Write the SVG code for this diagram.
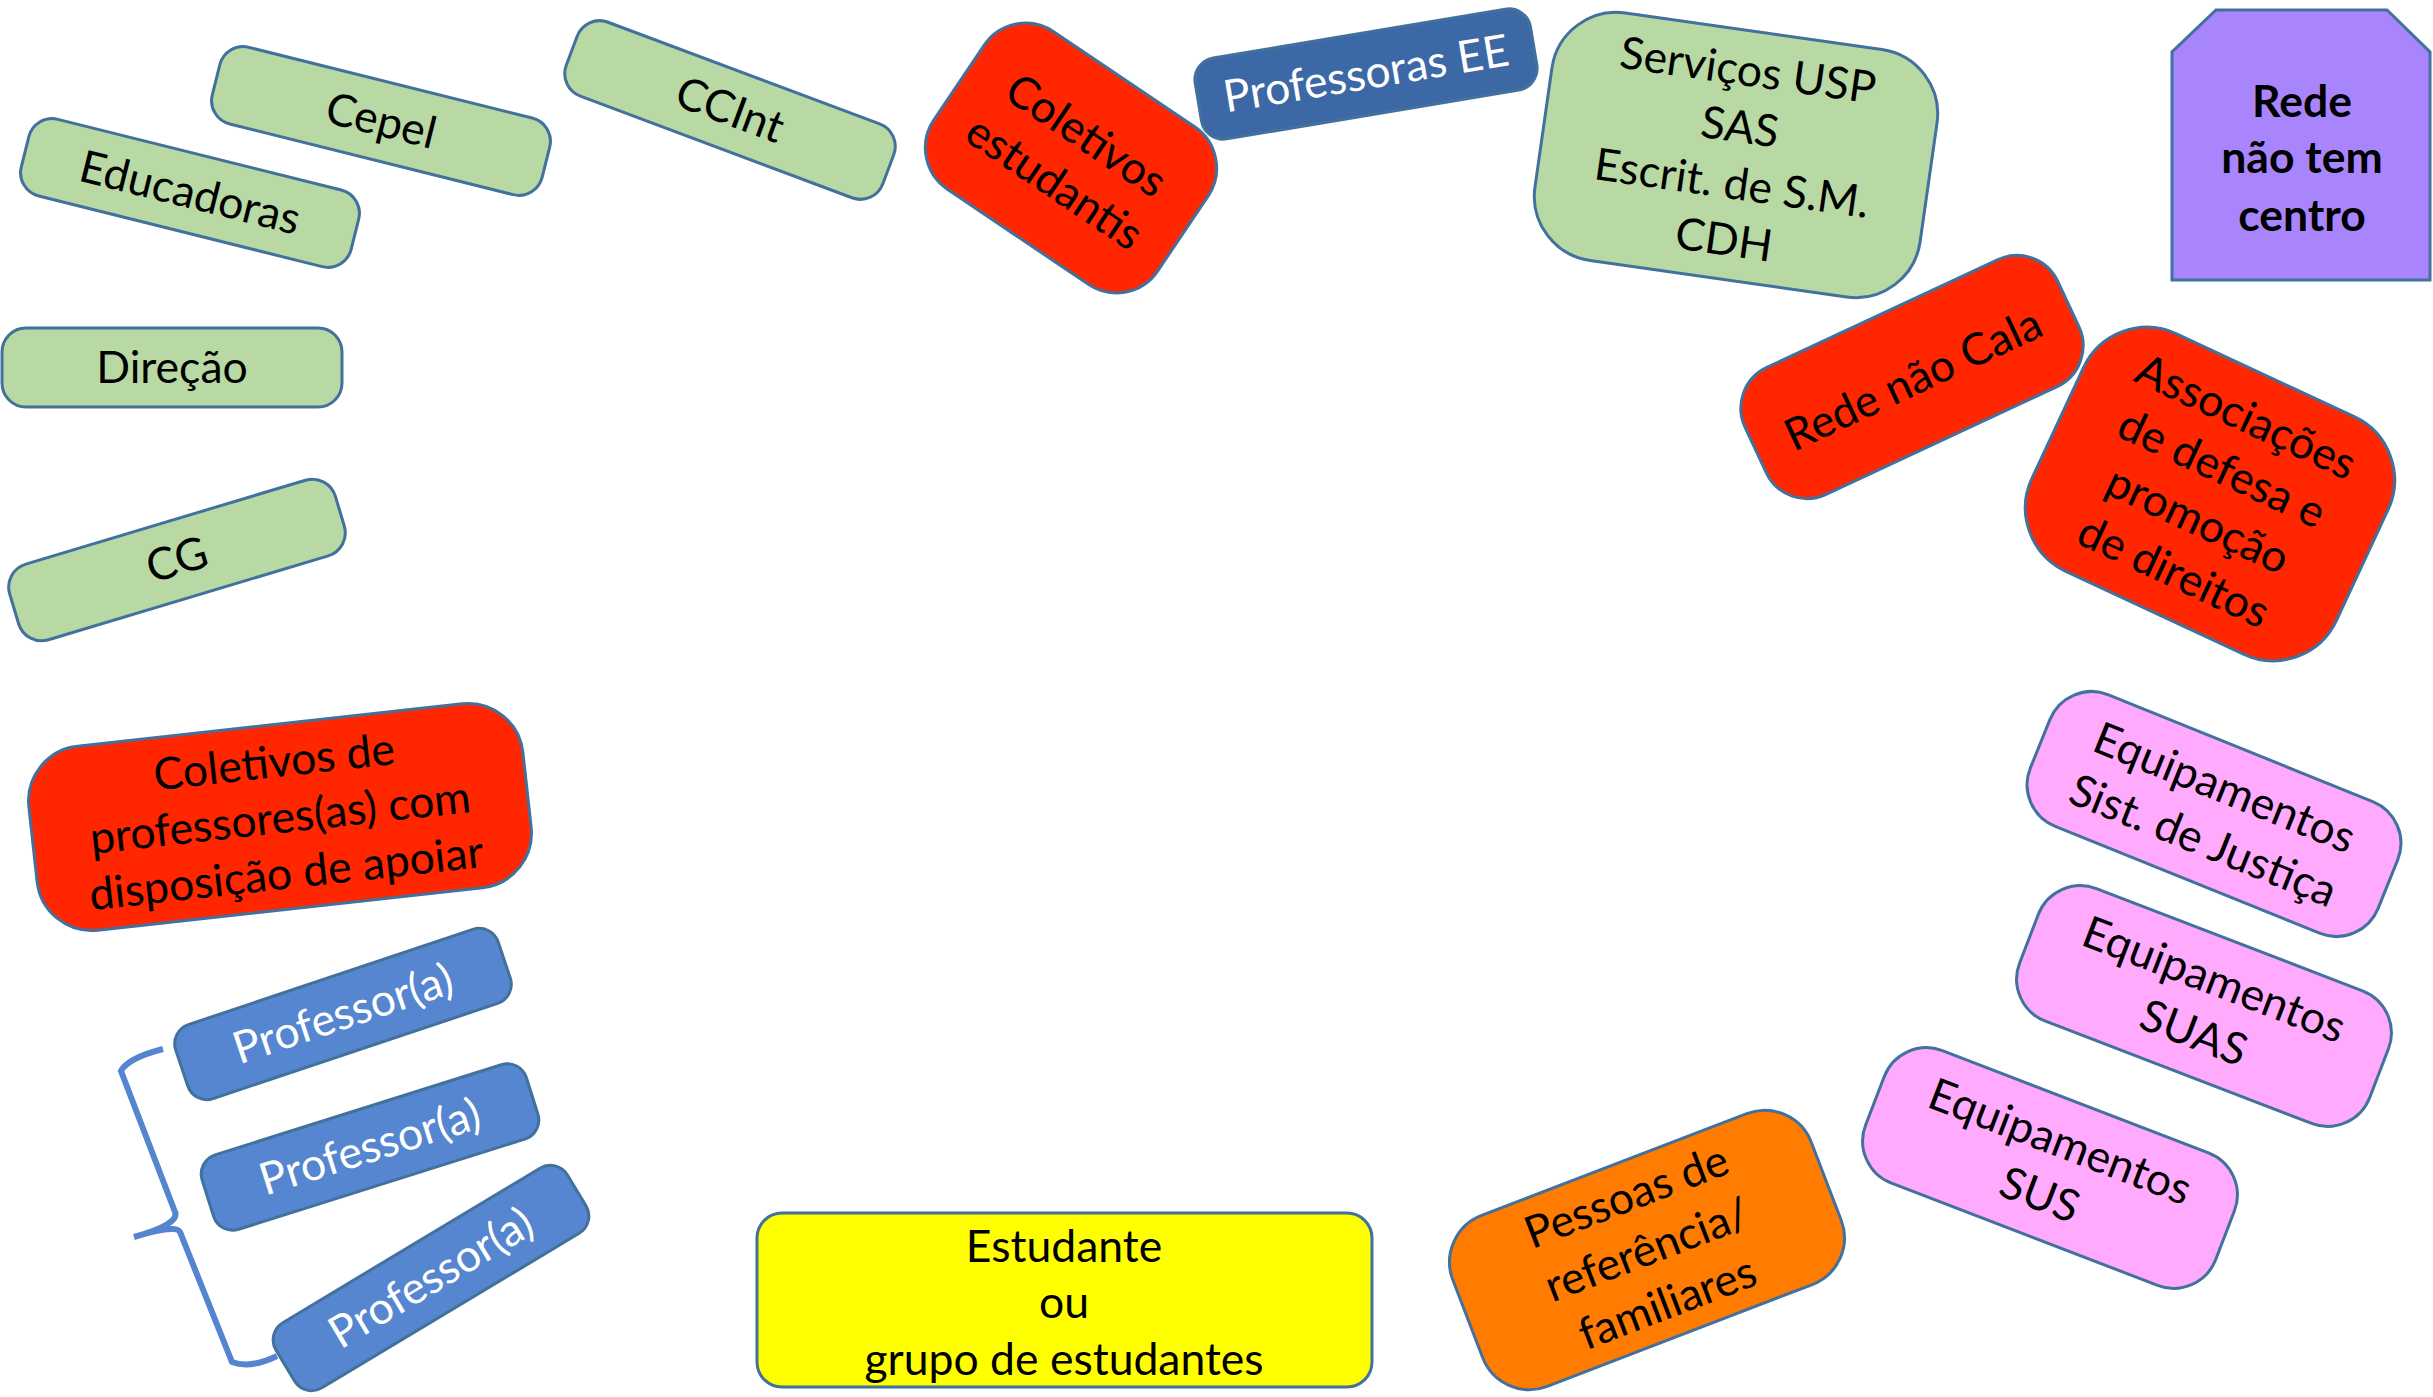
<svg xmlns="http://www.w3.org/2000/svg" width="2433" height="1397" viewBox="0 0 2433 1397">
<style>
  .box { stroke: #41719c; stroke-width: 3; }
  .green { fill: #b8d9a3; }
  .red { fill: #ff2600; }
  .pink { fill: #ffaafc; }
  .blue { fill: #5586cf; }
  .dblue { fill: #3c68a6; }
  .purple { fill: #a985fd; }
  .orange { fill: #ff7c00; }
  .yellow { fill: #ffff00; }
  text { font-family: Lato, "Liberation Sans", sans-serif; font-size: 44.5px; text-anchor: middle; fill: #000; }
  .w { fill: #ffffff; }
  .b { font-weight: bold; }
  .brace { fill: none; stroke: #5585cf; stroke-width: 6; }
</style>
<rect x="0" y="0" width="2433" height="1397" fill="#ffffff"/>

<g id="educadoras" transform="translate(190,193) rotate(14)">
  <rect class="box green" x="-170" y="-39.5" width="340" height="79" rx="24"/>
  <text x="0" y="15">Educadoras</text>
</g>
<g id="cepel" transform="translate(381,121) rotate(14)">
  <rect class="box green" x="-170" y="-39.5" width="340" height="79" rx="24"/>
  <text x="0" y="15">Cepel</text>
</g>
<g id="ccint" transform="translate(730,110) rotate(20.5)">
  <rect class="box green" x="-169" y="-39.5" width="338" height="79" rx="24"/>
  <text x="0" y="15">CCInt</text>
</g>
<g id="direcao">
  <rect class="box green" x="2" y="328" width="340" height="79" rx="24"/>
  <text x="172" y="383">Direção</text>
</g>
<g id="cg" transform="translate(177,560) rotate(-16.7)">
  <rect class="box green" x="-170" y="-39.5" width="340" height="79" rx="24"/>
  <text x="0" y="15">CG</text>
</g>
<g id="coletivos-professores" transform="translate(280,817) rotate(-6.3)">
  <rect class="box red" x="-248.5" y="-92.5" width="497" height="185" rx="55"/>
  <text><tspan x="0" y="-40">Coletivos de</tspan><tspan x="0" y="16">professores(as) com</tspan><tspan x="0" y="72">disposição de apoiar</tspan></text>
</g>
<g id="professor1" transform="translate(343,1014) rotate(-18.5)">
  <rect class="box blue" x="-170" y="-39" width="340" height="78" rx="20"/>
  <text class="w" x="0" y="15">Professor(a)</text>
</g>
<g id="professor2" transform="translate(370,1147) rotate(-17.5)">
  <rect class="box blue" x="-170" y="-39" width="340" height="78" rx="20"/>
  <text class="w" x="0" y="15">Professor(a)</text>
</g>
<g id="professor3" transform="translate(431,1278) rotate(-31)">
  <rect class="box blue" x="-170" y="-38" width="340" height="76" rx="20"/>
  <text class="w" x="0" y="15">Professor(a)</text>
</g>
<g id="estudante">
  <rect class="box yellow" x="757" y="1213" width="615" height="174" rx="25"/>
  <text><tspan x="1064" y="1262">Estudante</tspan><tspan x="1064" y="1318">ou</tspan><tspan x="1064" y="1375">grupo de estudantes</tspan></text>
</g>
<g id="pessoas" transform="translate(1647,1250) rotate(-21)">
  <rect class="box orange" x="-192" y="-91.5" width="384" height="183" rx="50"/>
  <text><tspan x="0" y="-42">Pessoas de</tspan><tspan x="0" y="15">referência/</tspan><tspan x="0" y="72">familiares</tspan></text>
</g>
<g id="coletivos-estudantis" transform="translate(1071,158) rotate(34)">
  <rect class="box red" x="-135" y="-95" width="270" height="190" rx="50"/>
  <text><tspan x="0" y="-12">Coletivos</tspan><tspan x="0" y="45">estudantis</tspan></text>
</g>
<g id="professoras-ee" transform="translate(1366,74) rotate(-9.5)">
  <rect class="box dblue" x="-170" y="-41" width="340" height="82" rx="22"/>
  <text class="w" x="0" y="15">Professoras EE</text>
</g>
<g id="servicos-usp" transform="translate(1736,155) rotate(8.1)">
  <rect class="box green" x="-194.5" y="-125" width="389" height="250" rx="65"/>
  <text><tspan x="0" y="-70">Serviços USP</tspan><tspan x="0" y="-13">SAS</tspan><tspan x="0" y="44">Escrit. de S.M.</tspan><tspan x="0" y="101">CDH</tspan></text>
</g>
<g id="rede-nao-tem-centro">
  <polygon class="box purple" points="2216,10 2387,10 2430,52 2430,280 2172,280 2172,52"/>
  <text class="b"><tspan x="2302" y="117">Rede</tspan><tspan x="2302" y="173">não tem</tspan><tspan x="2302" y="231">centro</tspan></text>
</g>
<g id="rede-nao-cala" transform="translate(1912,377) rotate(-25)">
  <rect class="box red" x="-172.5" y="-70" width="345" height="140" rx="45"/>
  <text x="0" y="18">Rede não Cala</text>
</g>
<g id="associacoes" transform="translate(2210,494) rotate(25)">
  <rect class="box red" x="-168" y="-131" width="336" height="262" rx="70"/>
  <text><tspan x="0" y="-70">Associações</tspan><tspan x="0" y="-13">de defesa e</tspan><tspan x="0" y="44">promoção</tspan><tspan x="0" y="101">de direitos</tspan></text>
</g>
<g id="equip-justica" transform="translate(2214,814) rotate(22)">
  <rect class="box pink" x="-187.5" y="-71" width="375" height="142" rx="45"/>
  <text><tspan x="0" y="-13">Equipamentos</tspan><tspan x="0" y="44">Sist. de Justiça</tspan></text>
</g>
<g id="equip-suas" transform="translate(2204,1006) rotate(21)">
  <rect class="box pink" x="-187.5" y="-71" width="375" height="142" rx="45"/>
  <text><tspan x="0" y="-13">Equipamentos</tspan><tspan x="0" y="44">SUAS</tspan></text>
</g>
<g id="equip-sus" transform="translate(2050,1168) rotate(21)">
  <rect class="box pink" x="-187.5" y="-71" width="375" height="142" rx="45"/>
  <text><tspan x="0" y="-13">Equipamentos</tspan><tspan x="0" y="44">SUS</tspan></text>
</g>
<g id="connectors">
  <path class="brace" d="M163,1049 Q128,1058 121,1071 L175,1212 Q180,1224 134,1237 M134,1237 Q176,1224 180,1232 L232,1362 Q250,1369 277,1356"/>
</g>
</svg>
